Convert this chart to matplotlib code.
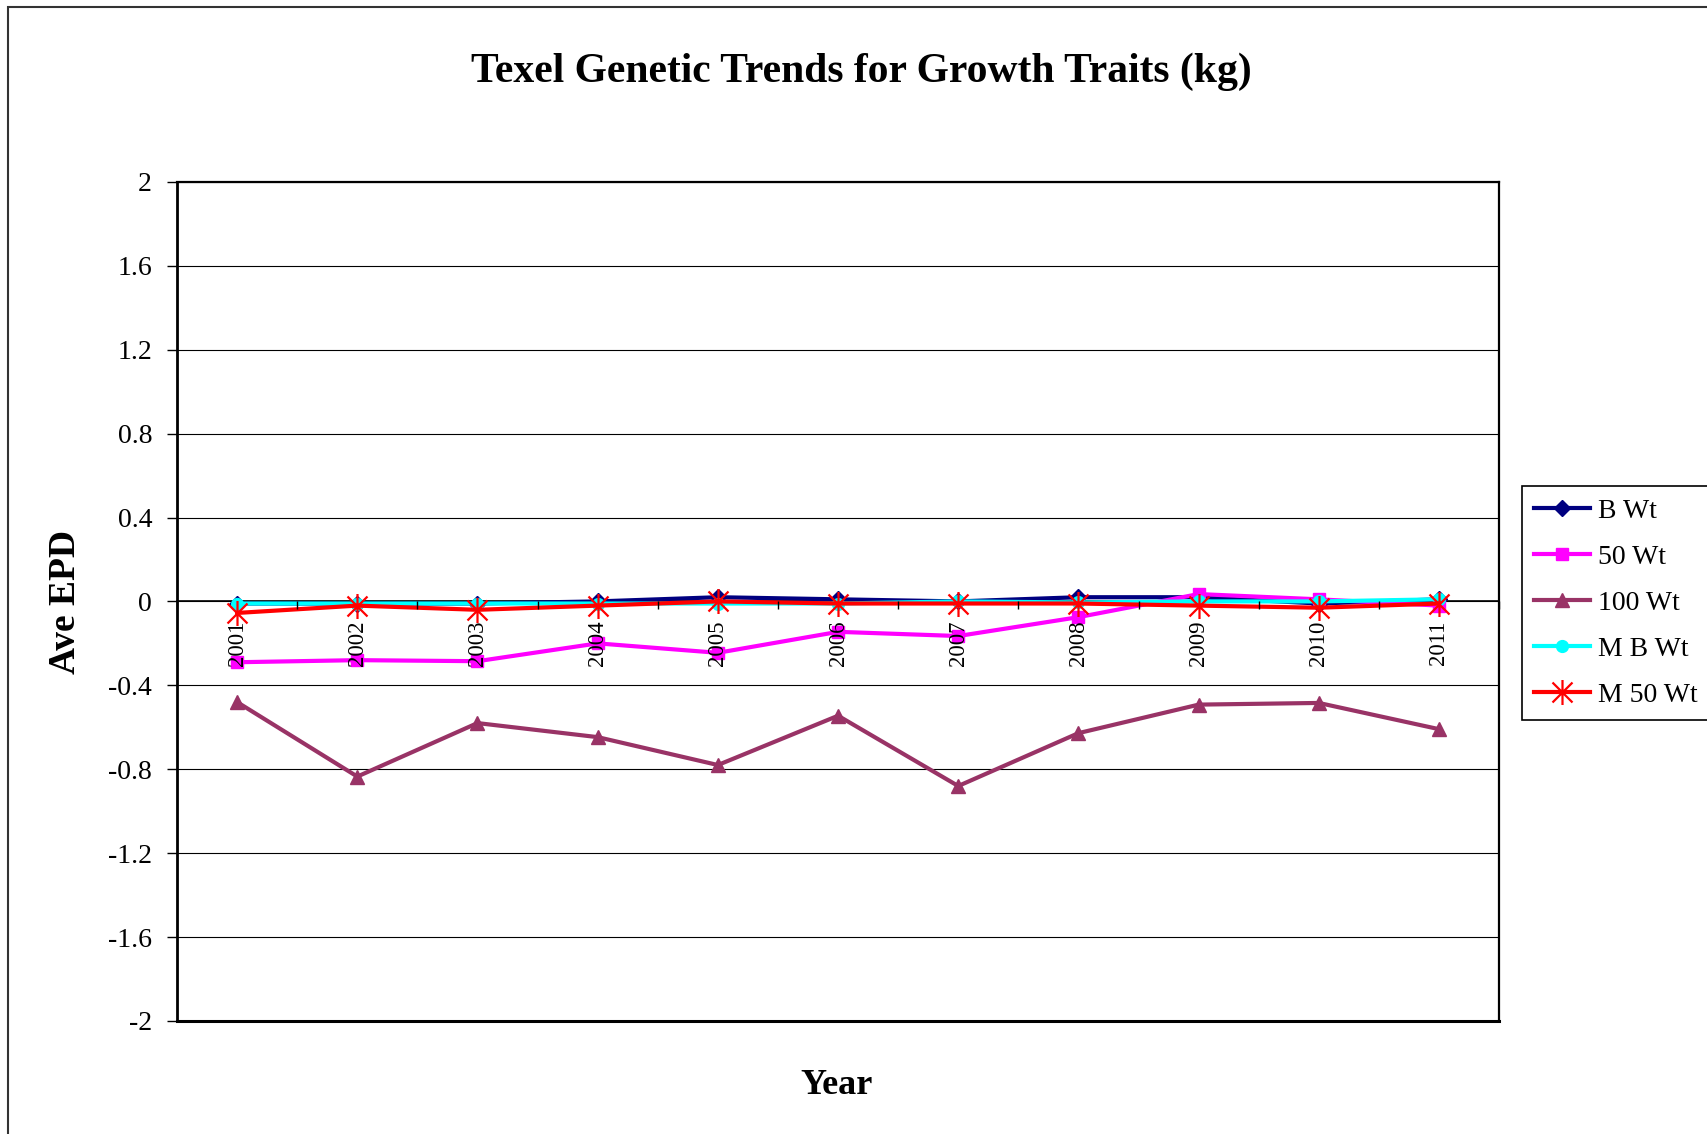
import numpy as np
import matplotlib
matplotlib.use("Agg")
import matplotlib.pyplot as plt
from matplotlib.path import Path
from matplotlib.patches import Rectangle

plt.rcParams['font.family'] = ['Liberation Serif', 'DejaVu Serif']
plt.rcParams['axes.unicode_minus'] = False

# average EPD by birth year (kg)
anos = ['2001', '2002', '2003', '2004', '2005', '2006', '2007', '2008', '2009', '2010', '2011']
b_wt = [-0.01, -0.01, -0.01, 0.00, 0.02, 0.01, 0.00, 0.02, 0.02, -0.01, 0.01]
wt_50 = [-0.29, -0.28, -0.285, -0.20, -0.245, -0.145, -0.165, -0.075, 0.035, 0.01, -0.02]
wt_100 = [-0.48, -0.835, -0.58, -0.647, -0.78, -0.545, -0.88, -0.628, -0.492, -0.484, -0.609]
m_b_wt = [-0.01, -0.01, -0.01, -0.01, -0.01, -0.01, 0.00, -0.005, 0.00, 0.00, 0.01]
m_50_wt = [-0.055, -0.02, -0.04, -0.02, 0.00, -0.01, -0.01, -0.01, -0.02, -0.03, -0.01]

y_ticks = [-2, -1.6, -1.2, -0.8, -0.4, 0, 0.4, 0.8, 1.2, 1.6, 2]

# asterisk marker (x plus vertical bar)
asterisco = Path(
    [(-0.8, -0.8), (0.8, 0.8), (-0.8, 0.8), (0.8, -0.8), (0, -1), (0, 1)],
    [Path.MOVETO, Path.LINETO, Path.MOVETO, Path.LINETO, Path.MOVETO, Path.LINETO],
)

series = [
    ('B Wt', b_wt, dict(color='#000080', marker='D', markersize=8.5)),
    ('50 Wt', wt_50, dict(color='#FF00FF', marker='s', markersize=9)),
    ('100 Wt', wt_100, dict(color='#993366', marker='^', markersize=10)),
    ('M B Wt', m_b_wt, dict(color='#00FFFF', marker='o', markersize=8.5)),
    ('M 50 Wt', m_50_wt, dict(color='#FF0000', marker=asterisco, markersize=18,
                              markerfacecolor='none', markeredgewidth=1.6)),
]

fig = plt.figure(figsize=(17.07, 11.34), dpi=100)
ax = fig.add_axes([0.1037, 0.0997, 0.7745, 0.7399])

x = np.arange(1, len(anos) + 1)
for rotulo, valores, estilo in series:
    ax.plot(x, valores, label=rotulo, linewidth=3, zorder=3, **estilo)

ax.set_xlim(0.5, len(anos) + 0.5)
ax.set_ylim(-2, 2)

# y axis
ax.set_yticks(y_ticks)
ax.set_yticklabels(['%g' % (round(t, 1) + 0.0) for t in y_ticks])
ax.tick_params(axis='y', direction='out', length=7, width=1, pad=11,
               labelsize=20, colors='black')
ax.yaxis.grid(True, color='black', linewidth=0.8)
ax.set_axisbelow(True)

# category axis crossing at zero, labels on top of the lines
ax.spines['bottom'].set_position(('data', 0))
ax.spines['bottom'].set_linewidth(1.2)
ax.set_xticks(x)
ax.set_xticklabels(anos, rotation=90)
ax.set_xticks(np.arange(0.5, len(anos) + 1, 1), minor=True)
ax.tick_params(axis='x', which='major', length=0, pad=14, labelsize=16.5)
ax.tick_params(axis='x', which='minor', direction='out', length=6, width=1)
ax.xaxis.set_zorder(4)

for lado in ['left', 'top', 'right']:
    ax.spines[lado].set_color('black')
ax.spines['left'].set_linewidth(2)
ax.spines['top'].set_linewidth(1.6)
ax.spines['right'].set_linewidth(1.6)
ax.axhline(-2, color='black', linewidth=2.2, clip_on=False, zorder=2.5)

fig.text(0.5044, 0.937, 'Texel Genetic Trends for Growth Traits (kg)',
         ha='center', va='center', fontsize=30, fontweight='bold')
fig.text(0.0385, 0.469, 'Ave EPD', rotation=90, ha='center', va='center',
         fontsize=27, fontweight='bold')
fig.text(0.4903, 0.0432, 'Year', ha='center', va='center',
         fontsize=26, fontweight='bold')

leg = ax.legend(loc='upper left', bbox_to_anchor=(0.8916, 0.5714),
                bbox_transform=fig.transFigure, borderaxespad=0,
                fontsize=20, frameon=True, fancybox=False, framealpha=1,
                edgecolor='black', labelspacing=0.74, handlelength=2.0,
                handletextpad=0.3, borderpad=0.45)
leg.get_frame().set_linewidth(1.2)

fig.add_artist(Rectangle((0.0044, -0.1), 1.2, 1.0934, transform=fig.transFigure,
                         fill=False, edgecolor='#333333', linewidth=1.5))

fig.savefig('out.png', dpi=100)
